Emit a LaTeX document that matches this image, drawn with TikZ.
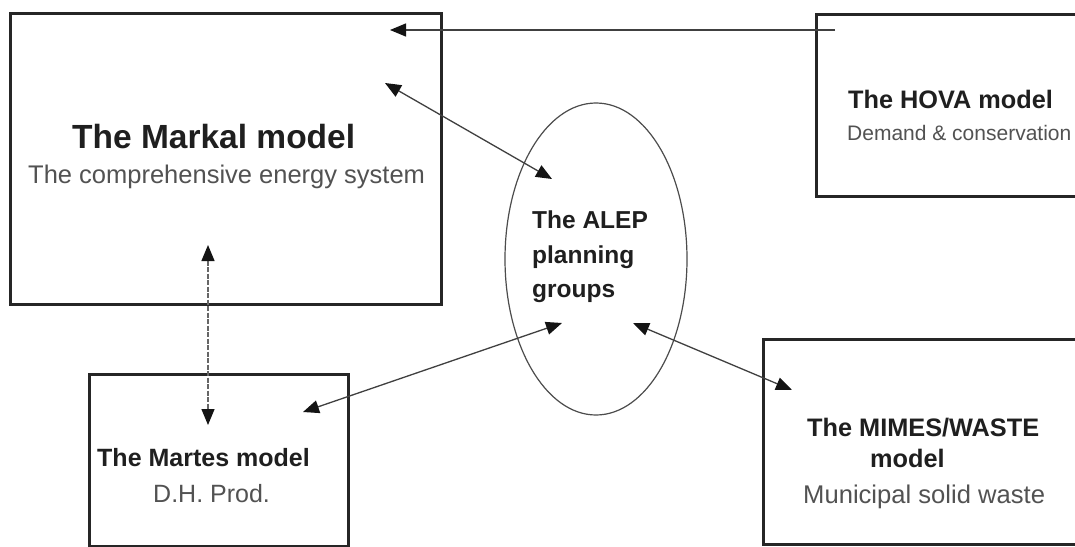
\documentclass[tikz,border=0pt]{standalone}
\usepackage{fontspec}
\setmainfont{Liberation Sans}
\usetikzlibrary{arrows.meta,shapes.geometric}
\begin{document}
\begin{tikzpicture}[x=1pt,y=-1pt,
  box/.style={draw=black!85, line width=2.6pt, inner sep=0pt, anchor=north west},
  ttl/.style={anchor=base west, inner sep=0pt, text=black!88},
  sub/.style={anchor=base west, inner sep=0pt, text=black!68},
  link/.style={draw=black!75, line width=1.3pt},
  tip/.tip={Triangle[length=16pt,width=13pt,color=black!92]},
]
\useasboundingbox (0,0) rectangle (1075,546);
\clip (0,0) rectangle (1075,546);
\fill[white] (0,0) rectangle (1075,546);

% boxes
\node (markal) [box, minimum width=431pt, minimum height=291pt] at (9,12) {};
\node (hova) [box, minimum width=280pt, minimum height=182pt] at (815,13) {};
\node (martes) [box, minimum width=259pt, minimum height=172pt] at (88,373) {};
\node (mimes) [box, minimum width=330pt, minimum height=205pt] at (762,338) {};
\node (alep) [draw=black!70, line width=1.2pt, ellipse, minimum width=182pt, minimum height=312pt, inner sep=0pt] at (596,259) {};

% texts
\node (markalT) [ttl, font=\bfseries\fontsize{33.5}{40}\selectfont] at (72,148) {The Markal model};
\node (markalS) [sub, font=\fontsize{25.5}{30}\selectfont] at (28,183) {The comprehensive energy system};
\node (hovaT) [ttl, font=\bfseries\fontsize{25.3}{30}\selectfont] at (848,108) {The HOVA model};
\node (hovaS) [sub, font=\fontsize{21}{25}\selectfont] at (847,140) {Demand \& conservation};
\node (martesT) [ttl, font=\bfseries\fontsize{25}{30}\selectfont] at (97,466) {The Martes model};
\node (martesS) [sub, font=\fontsize{25}{30}\selectfont] at (153,502) {D.H. Prod.};
\node (mimesT) [ttl, font=\bfseries\fontsize{25.3}{30}\selectfont] at (807,436) {The MIMES/WASTE};
\node (mimesT2) [ttl, font=\bfseries\fontsize{25.3}{30}\selectfont] at (870,467) {model};
\node (mimesS) [sub, font=\fontsize{25.6}{30}\selectfont] at (803,503) {Municipal solid waste};
\node (alepT1) [ttl, font=\bfseries\fontsize{24.5}{30}\selectfont] at (532,228) {The ALEP};
\node (alepT2) [ttl, font=\bfseries\fontsize{24.5}{30}\selectfont] at (532,263) {planning};
\node (alepT3) [ttl, font=\bfseries\fontsize{24.5}{30}\selectfont] at (532,297) {groups};

% connector end points
\coordinate (hovaOut) at (835,30);
\coordinate (markalIn1) at (390,30);
\coordinate (markalIn2) at (385,83);
\coordinate (alepIn1) at (552,179);
\coordinate (markalIn3) at (208,245);
\coordinate (martesIn1) at (208,425);
\coordinate (martesIn2) at (303,412);
\coordinate (alepIn2) at (562,323);
\coordinate (alepIn3) at (633,323);
\coordinate (mimesIn) at (792,390);

% connectors
\draw[link, -tip] (hovaOut) -- (markalIn1);
\draw[link, tip-tip] (markalIn2) -- (alepIn1);
\draw[link, draw=black!60, dash pattern=on 5pt off 1.5pt, tip-tip] (markalIn3) -- (martesIn1);
\draw[link, tip-tip] (martesIn2) -- (alepIn2);
\draw[link, tip-tip] (alepIn3) -- (mimesIn);
\end{tikzpicture}
\end{document}
